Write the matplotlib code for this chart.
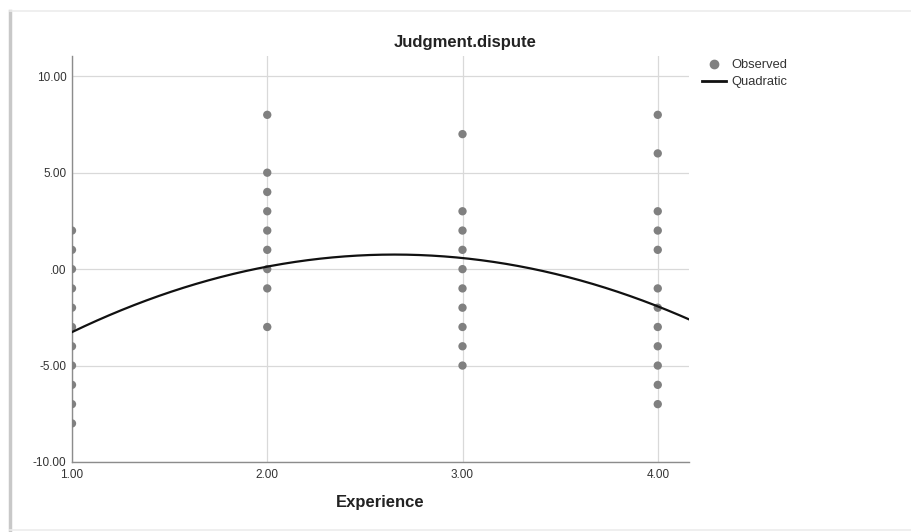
import numpy as np
import matplotlib
matplotlib.use("Agg")
import matplotlib.pyplot as plt
from matplotlib.lines import Line2D

plt.rcParams["font.family"] = ["Liberation Sans", "DejaVu Sans"]

# ─── Observed values per experience level ────────────────────────────────────
exp_levels = [1.0, 2.0, 3.0, 4.0]
obs_exp1 = [2, 1, 0, -1, -2, -3, -4, -5, -6, -7, -8]
obs_exp2 = [8, 5, 4, 3, 2, 1, 0, -1, -3]
obs_exp3 = [7, 3, 2, 1, 0, -1, -2, -3, -4, -5]
obs_exp4 = [8, 6, 3, 2, 1, -1, -2, -3, -4, -5, -6, -7]

# quadratic fit: y = b0 + b1*x + b2*x^2
quad_coefs = [-9.61, 7.82, -1.475]

y_ticks = [-10, -5, 0, 5, 10]
x_ticks = [1, 2, 3, 4]


def spss_fmt(v):
    s = f"{v:.2f}"
    return s.replace("0.00", ".00") if abs(v) < 1e-9 else s


fig = plt.figure(figsize=(9.11, 5.32), dpi=100)
ax = fig.add_axes([72 / 911, 1 - 462 / 532, (689 - 72) / 911, (462 - 56) / 532])

groups = [obs_exp1, obs_exp2, obs_exp3, obs_exp4]
xs = np.concatenate([[lv] * len(g) for lv, g in zip(exp_levels, groups)])
ys = np.concatenate(groups)
ax.scatter(xs, ys, s=36, color="#808080", edgecolors="none", zorder=3, clip_on=True)

xx = np.linspace(1.0, 4.16, 200)
yy = quad_coefs[0] + quad_coefs[1] * xx + quad_coefs[2] * xx ** 2
ax.plot(xx, yy, color="#111111", lw=1.6, zorder=4)

ax.set_xlim(1.0, 4.16)
ax.set_ylim(-10, 11.05)
ax.set_xticks(x_ticks)
ax.set_yticks(y_ticks)
ax.set_xticklabels([spss_fmt(v) for v in x_ticks], fontsize=8.5, color="#333333")
ax.set_yticklabels([spss_fmt(v) for v in y_ticks], fontsize=8.5, color="#333333")
ax.tick_params(length=0, pad=4)
ax.tick_params(axis="x", pad=5)
ax.grid(True, color="#d9d9d9", lw=0.9, zorder=0)
ax.set_axisbelow(True)
for side in ["top", "right"]:
    ax.spines[side].set_visible(False)
for side in ["left", "bottom"]:
    ax.spines[side].set_color("#8c8c8c")
    ax.spines[side].set_linewidth(1.0)

ax.set_xlabel("Experience", fontsize=12, fontweight="bold", color="#222222", labelpad=10)

fig.text(465 / 911, 1 - 43 / 532, "Judgment.dispute", ha="center", va="center",
         fontsize=12, fontweight="bold", color="#222222")

handles = [
    Line2D([], [], marker="o", ls="none", color="#808080", markersize=6),
    Line2D([], [], color="#111111", lw=2.0),
]
fig.legend(handles, ["Observed", "Quadratic"], loc="upper left",
           bbox_to_anchor=(702 / 911, 1 - 59 / 532), frameon=False,
           fontsize=9.3, handlelength=1.85, handletextpad=0.4,
           labelspacing=0.4, borderaxespad=0, borderpad=0,
           labelcolor="#333333")

# frame around the chart
fig.add_artist(Line2D([10 / 911, 10 / 911], [1 - 531 / 532, 1 - 11 / 532],
                      color="#c8c8c8", lw=2.5, transform=fig.transFigure))
fig.add_artist(Line2D([10 / 911, 1], [1 - 11 / 532, 1 - 11 / 532],
                      color="#ececec", lw=1.2, transform=fig.transFigure))
fig.add_artist(Line2D([10 / 911, 1], [1 - 530 / 532, 1 - 530 / 532],
                      color="#ececec", lw=1.2, transform=fig.transFigure))

fig.savefig("out.png", dpi=100, facecolor="white")
